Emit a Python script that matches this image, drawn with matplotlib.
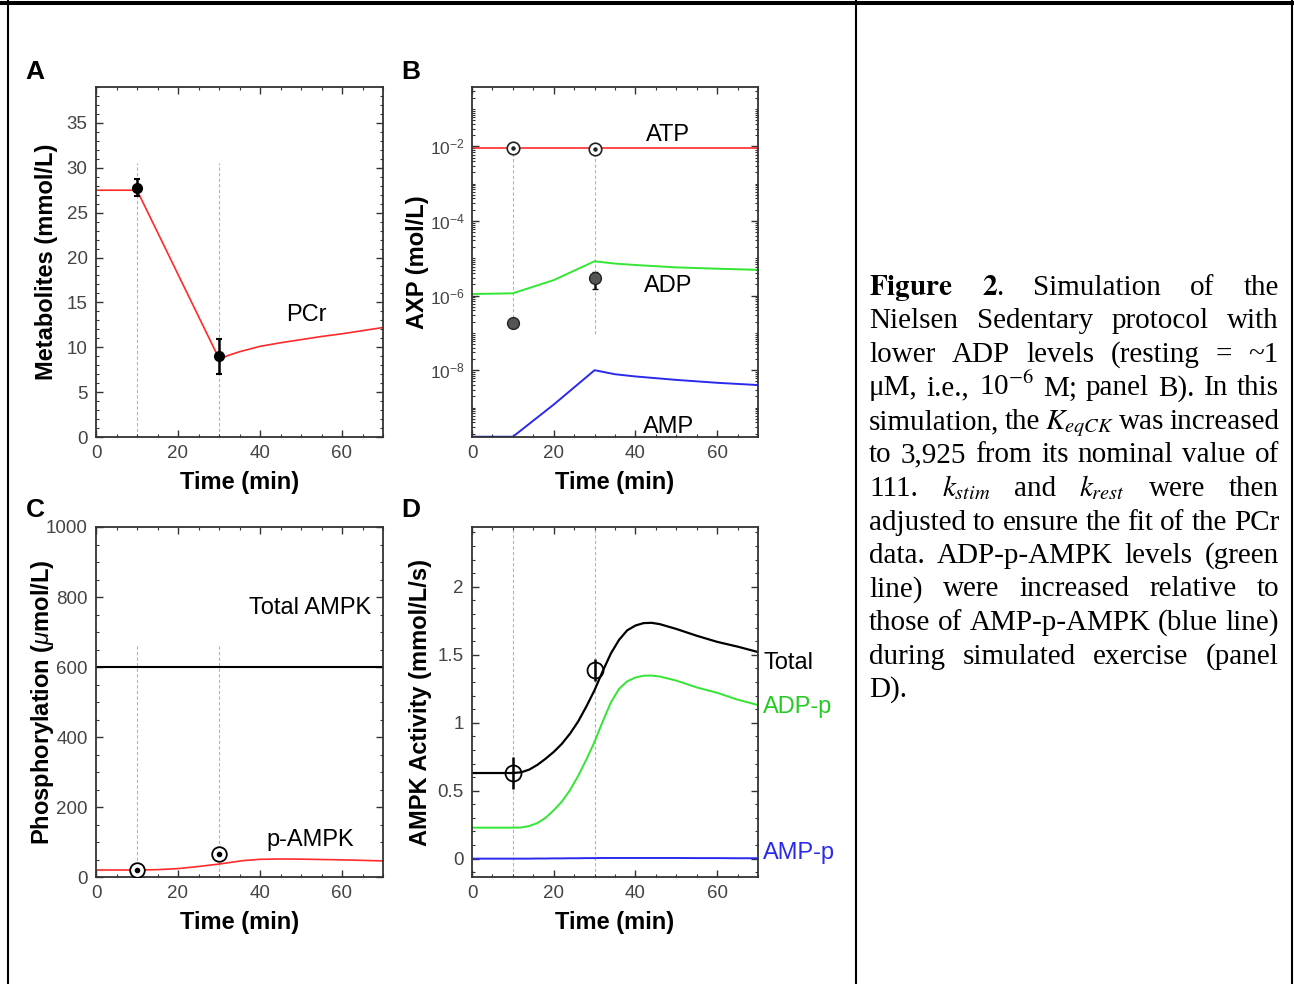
import matplotlib
matplotlib.use('Agg')
import matplotlib.pyplot as plt
from matplotlib.ticker import MultipleLocator, LogLocator, NullFormatter, FuncFormatter
from matplotlib.lines import Line2D

plt.rcParams['font.family'] = 'Liberation Sans'
plt.rcParams['mathtext.fontset'] = 'custom'
plt.rcParams['mathtext.rm'] = 'Liberation Sans'
plt.rcParams['mathtext.it'] = 'Liberation Sans:italic'
plt.rcParams['mathtext.bf'] = 'Liberation Sans:bold'

W, H = 1294, 984

# ---- values ----
# A: PCr
pcr_t = [0, 10, 30, 31, 32, 35, 40, 45, 50, 55, 60, 65, 70]
pcr_v = [27.5, 27.5, 8.75, 8.8, 9.05, 9.5, 10.1, 10.5, 10.85, 11.2, 11.5, 11.85, 12.2]
pcr_obs_t = [10, 30]
pcr_obs_v = [27.8, 9.0]
pcr_obs_err = [0.95, 1.95]

# B: AXP (mol/L)
atp_t = [0, 70]
atp_v = [9.0e-3, 9.0e-3]
adp_t = [0, 10, 20, 30, 35, 40, 50, 60, 70]
adp_v = [1.1e-6, 1.15e-6, 2.6e-6, 8.3e-6, 7.2e-6, 6.6e-6, 5.7e-6, 5.25e-6, 4.9e-6]
amp_t = [0, 10, 20, 30, 35, 40, 50, 60, 70]
amp_v = [1.65e-10, 1.65e-10, 1.2e-9, 1.0e-8, 7.8e-9, 6.8e-9, 5.5e-9, 4.6e-9, 4.0e-9]
atp_obs_t = [10, 30]
atp_obs_v = [8.8e-3, 8.6e-3]
adp_obs_t = [10, 30]
adp_obs_v = [1.8e-7, 2.9e-6]
adp_obs_lo = [1.5e-7, 1.5e-6]
adp_obs_hi = [2.2e-7, 4.2e-6]

# C: phosphorylation (umol/L)
pampk_t = [0, 10, 15, 20, 25, 30, 33, 36, 40, 45, 50, 60, 70]
pampk_v = [20, 20, 21, 24, 30, 37, 42, 47, 50.5, 51.5, 51, 49, 46]
total_ampk = 600
pampk_obs_t = [10, 30]
pampk_obs_v = [20, 65]

# D: AMPK activity (mmol/L/s)
act_t = [0, 10, 12, 14, 16, 18, 20, 22, 24, 26, 28, 30, 32, 34, 36, 38,
         40, 42, 44, 46, 50, 55, 60, 65, 70]
total_act = [0.63, 0.63, 0.635, 0.655, 0.69, 0.735, 0.785, 0.845, 0.92, 1.01,
             1.12, 1.24, 1.38, 1.51, 1.61, 1.68, 1.715, 1.733, 1.735, 1.725,
             1.69, 1.64, 1.595, 1.56, 1.52]
adp_act = [0.228, 0.228, 0.229, 0.24, 0.262, 0.3, 0.356, 0.42, 0.505, 0.61,
           0.73, 0.86, 1.01, 1.15, 1.25, 1.305, 1.333, 1.346, 1.347, 1.34,
           1.31, 1.26, 1.22, 1.17, 1.13]
amp_act = [0.0, 0.0, 0.0, 0.0, 0.001, 0.001, 0.002, 0.002, 0.003, 0.003,
           0.004, 0.004, 0.005, 0.005, 0.005, 0.005, 0.005, 0.005, 0.005, 0.005,
           0.005, 0.004, 0.004, 0.003, 0.003]
act_obs_t = [10, 30]
act_obs_v = [0.63, 1.39]
act_obs_err = [0.115, 0.08]

caption_lines = [
    r"$\mathbf{Figure}$ $\mathbf{2}$. Simulation of the",
    "Nielsen Sedentary protocol with",
    "lower ADP levels (resting = ~1",
    r"μM, i.e., 10$^{-6}$ M; panel B). In this",
    r"simulation, the $K_{eqCK}$ was increased",
    "to 3,925 from its nominal value of",
    r"111. $k_{stim}$ and $k_{rest}$ were then",
    "adjusted to ensure the fit of the PCr",
    "data. ADP-p-AMPK levels (green",
    "line) were increased relative to",
    "those of AMP-p-AMPK (blue line)",
    "during simulated exercise (panel",
    "D).",
]

RED = '#ff2a2a'
GREEN = '#33e633'
BLUE = '#2a2aee'
GUIDE = dict(color='#b5b5b5', lw=0.8, ls=(0, (3, 2)), zorder=1)
LABEL_SIZE = 17
NOTE_SIZE = 17
TICK_SIZE = 13.5


def px_axes(fig, l, t, r, b):
    return fig.add_axes([l / W, 1 - b / H, (r - l) / W, (b - t) / H])


def style(ax):
    ax.tick_params(which='both', direction='in', top=True, right=True,
                   colors='#333333', labelcolor='#444444', labelsize=TICK_SIZE)
    ax.tick_params(which='major', length=5, width=1, pad=6)
    ax.tick_params(which='minor', length=2.5, width=0.8)
    for s in ax.spines.values():
        s.set_linewidth(1.3)
        s.set_color('#333333')
    ax.set_xlim(0, 70)
    ax.xaxis.set_major_locator(MultipleLocator(20))
    ax.xaxis.set_minor_locator(MultipleLocator(5))
    ax.set_xlabel('Time (min)', fontsize=LABEL_SIZE, fontweight='bold', va='center')
    ax.xaxis.set_label_coords(0.5, -0.129)


def ylab(ax, text, xc):
    ax.set_ylabel(text, fontsize=LABEL_SIZE, fontweight='bold', va='center')
    ax.yaxis.set_label_coords(xc, 0.5)


fig = plt.figure(figsize=(W / 100, H / 100), dpi=100)

# ---- A ----
axA = px_axes(fig, 96, 87, 383, 437)
style(axA)
axA.set_ylim(0, 39)
axA.yaxis.set_major_locator(MultipleLocator(5))
axA.yaxis.set_minor_locator(MultipleLocator(1))
axA.vlines(pcr_obs_t, 0, 30.5, **GUIDE)
axA.plot(pcr_t, pcr_v, color=RED, lw=1.2, zorder=2)
axA.errorbar(pcr_obs_t, pcr_obs_v, yerr=pcr_obs_err, fmt='o', ms=7,
             color='black', ecolor='black', elinewidth=1.8, capsize=2.5,
             capthick=1.5, zorder=3)
axA.text(51.2, 13.6, 'PCr', fontsize=NOTE_SIZE, ha='center', va='center')
ylab(axA, 'Metabolites (mmol/L)', -0.171)

# ---- B ----
axB = px_axes(fig, 472, 87, 758, 437)
style(axB)
axB.set_yscale('log')
axB.set_ylim(10 ** -9.79, 10 ** -0.41)
axB.yaxis.set_major_locator(LogLocator(base=100.0, numticks=10))
axB.yaxis.set_minor_locator(LogLocator(base=10.0, subs=range(1, 10), numticks=30))
axB.yaxis.set_minor_formatter(NullFormatter())
axB.tick_params(axis='y', which='major', labelsize=12.5, pad=5)
axB.vlines([10], adp_obs_v[0], atp_obs_v[0], **GUIDE)
axB.vlines([30], 9.3e-8, atp_obs_v[1], **GUIDE)
axB.plot(atp_t, atp_v, color=RED, lw=1.2, zorder=2)
axB.plot(adp_t, adp_v, color=GREEN, lw=1.4, zorder=2)
axB.plot(amp_t, amp_v, color=BLUE, lw=1.4, zorder=2)
axB.plot(atp_obs_t, atp_obs_v, 'o', ms=9, mfc='white', mec='#222222', mew=1.2, zorder=3)
axB.plot(atp_obs_t, atp_obs_v, 'o', ms=2.2, color='#222222', zorder=4)
adp_err = [[v - lo for v, lo in zip(adp_obs_v, adp_obs_lo)],
           [hi - v for v, hi in zip(adp_obs_v, adp_obs_hi)]]
axB.errorbar(adp_obs_t, adp_obs_v, yerr=adp_err, fmt='o', ms=8.5, mfc='#555555',
             mec='#222222', ecolor='#111111', elinewidth=1.8, capsize=2, zorder=3)
axB.text(48, 10 ** -1.7, 'ATP', fontsize=NOTE_SIZE, ha='center', va='center')
axB.text(48, 10 ** -5.74, 'ADP', fontsize=NOTE_SIZE, ha='center', va='center')
axB.text(48, 10 ** -9.53, 'AMP', fontsize=NOTE_SIZE, ha='center', va='center')
ylab(axB, 'AXP (mol/L)', -0.192)

# ---- C ----
axC = px_axes(fig, 96, 527, 383, 877)
style(axC)
axC.set_ylim(0, 1000)
axC.yaxis.set_major_locator(MultipleLocator(200))
axC.yaxis.set_minor_locator(MultipleLocator(50))
axC.vlines(pampk_obs_t, 0, 663, **GUIDE)
axC.axhline(total_ampk, color='black', lw=1.5, zorder=2)
axC.plot(pampk_t, pampk_v, color=RED, lw=1.2, zorder=2)
axC.plot(pampk_obs_t, pampk_obs_v, 'o', ms=10.5, mfc='white', mec='black', mew=1.3, zorder=3)
axC.plot(pampk_obs_t, pampk_obs_v, 'o', ms=3, color='black', zorder=4)
axC.text(52.2, 769, 'Total AMPK', fontsize=NOTE_SIZE, ha='center', va='center')
axC.text(52.2, 106, 'p-AMPK', fontsize=NOTE_SIZE, ha='center', va='center')
ylab(axC, r'Phosphorylation ($\mu$mol/L)', -0.188)

# ---- D ----
axD = px_axes(fig, 472, 527, 758, 877)
style(axD)
axD.set_ylim(-0.135, 2.44)
axD.yaxis.set_major_locator(MultipleLocator(0.5))
axD.yaxis.set_minor_locator(MultipleLocator(0.1))
axD.yaxis.set_major_formatter(FuncFormatter(lambda v, p: '%g' % v))
axD.vlines(act_obs_t, -0.135, 2.44, **GUIDE)
axD.plot(act_t, total_act, color='black', lw=1.6, zorder=2)
axD.plot(act_t, adp_act, color=GREEN, lw=1.4, zorder=2)
axD.plot(act_t, amp_act, color=BLUE, lw=1.4, zorder=2)
axD.errorbar(act_obs_t, act_obs_v, yerr=act_obs_err, fmt='o', ms=11.5, mfc='none',
             mec='black', mew=1.3, ecolor='black', elinewidth=1.8, capsize=0, zorder=3)
axD.text(71.3, 1.44, 'Total', fontsize=NOTE_SIZE, ha='left', va='center', clip_on=False)
axD.text(71.3, 1.116, 'ADP-p', fontsize=NOTE_SIZE, ha='left', va='center', color='#22cc22', clip_on=False)
axD.text(71.3, 0.042, 'AMP-p', fontsize=NOTE_SIZE, ha='left', va='center', color=BLUE, clip_on=False)
ylab(axD, 'AMPK Activity (mmol/L/s)', -0.18)

# panel letters
for letter, x, y in [('A', 25, 60), ('B', 401, 60), ('C', 26, 498), ('D', 401, 498)]:
    fig.text(x / W, 1 - y / H, letter, fontsize=19, fontweight='bold', ha='left', va='top')

# table borders
def fline(x0, y0, x1, y1, lw):
    fig.add_artist(Line2D([x0 / W, x1 / W], [1 - y0 / H, 1 - y1 / H],
                          transform=fig.transFigure, color='black', lw=lw))

fline(0, 2.5, W, 2.5, 2.9)
fline(7.5, 0, 7.5, H, 1.5)
fline(855.5, 0, 855.5, H, 1.5)
fline(1292, 0, 1292, H, 1.5)

# caption, justified word by word
cap_left, cap_right = 869, 1279
cap_base0, cap_step = 295, 33.5
cap_size = 21
renderer = fig.canvas.get_renderer()
for i, line in enumerate(caption_lines):
    words = line.split(' ')
    y = 1 - (cap_base0 + i * cap_step) / H
    txts = [fig.text(0, y, w, fontsize=cap_size, family='Liberation Serif',
                     math_fontfamily='stix', ha='left', va='baseline') for w in words]
    widths = [t.get_window_extent(renderer).width for t in txts]
    if i < len(caption_lines) - 1 and len(words) > 1:
        gap = (cap_right - cap_left - sum(widths)) / (len(words) - 1)
    else:
        gap = 0.25 * cap_size * 100 / 72
    x = cap_left
    for t, w in zip(txts, widths):
        t.set_x(x / W)
        x += w + gap

fig.savefig('out.png', dpi=100)
